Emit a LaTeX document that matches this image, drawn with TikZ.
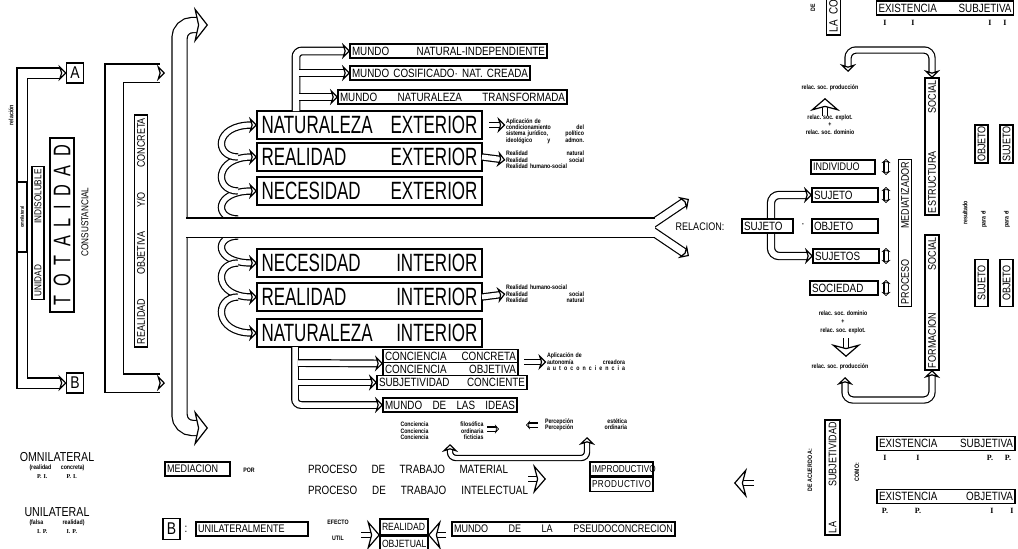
\documentclass[tikz,border=0pt]{standalone}
\usepackage{fontspec}
\setmainfont{Liberation Sans}
\newfontfamily\lero[FakeStretch=0.68]{Liberation Sans}
\newfontfamily\lerm[FakeStretch=0.82]{Liberation Sans}
\newfontfamily\lserif{Liberation Serif}
\newcommand\lsz[1]{\fontsize{#1}{#1}\selectfont}
\usetikzlibrary{arrows.meta, positioning}

\tikzset{
  hd/.tip={Stealth[length=8pt, width=16pt, inset=2.5pt, fill=white]},
  hdb/.tip={Stealth[length=14pt, width=36pt, inset=4pt, fill=white]},
  hdc/.tip={Stealth[length=13pt, width=30pt, inset=4pt, fill=white]},
  hds/.tip={Stealth[length=4pt, width=9pt, inset=1pt, fill=white]},
}

\begin{document}
\begin{tikzpicture}[x=1pt, y=-1pt, line width=1.2pt,
    box/.style={draw, fill=white, inner sep=0pt, outer sep=0pt},
    bigbox/.style={box, minimum width=225pt, minimum height=28pt, text width=216pt, font=\lero\lsz{25}},
    midbox/.style={box, minimum height=14pt, text width=#1, inner xsep=2pt, font=\lerm\lsz{12}},
    vbox/.style={box, rotate=90, font=\lerm\lsz{11}},
    hollow/.style={draw, double=white, double distance=#1},
    hollow/.default=6pt,
    tinytxt/.style={inner sep=0pt, align=left, font=\lerm\bfseries\lsz{6.4}},
    numtxt/.style={inner sep=0pt, font=\lserif\bfseries\lsz{8}},
    captxt/.style={inner sep=0pt, font=\lerm\lsz{12}},
]
\useasboundingbox (0,0) rectangle (1018,549);

% ---- left block
\node[box, minimum width=17pt, minimum height=20pt, font=\lerm\lsz{17}] (A) at (75,73) {A};
\node[box, minimum width=17pt, minimum height=20pt, font=\lerm\lsz{17}] (B) at (75,383) {B};
\draw[hollow=9pt, {hd}-{hd}] (A.west) -- (22,73) -- (22,383) -- (B.west);
\node[vbox, minimum width=70pt, minimum height=10pt, font=\lerm\bfseries\lsz{5}] (omni) at (22,217) {omnilateral};
\node[tinytxt, rotate=90] (rel) at (11,115) {relación};
\node[vbox, minimum width=133pt, minimum height=12pt, text width=127pt, font=\lerm\lsz{10}] (unid) at (38,233) {UNIDAD\hfill INDISOLUBLE};
\node[vbox, minimum width=174pt, minimum height=24pt, text width=160pt, font=\lero\lsz{24}] (tot) at (62,225) {T\hfill O\hfill T\hfill A\hfill L\hfill I\hfill D\hfill A\hfill D};
\node[captxt, rotate=90, font=\lerm\lsz{10}] (cons) at (85,222) {CONSUSTANCIAL};

% ---- second bracket
\coordinate (ro1) at (165,73);
\coordinate (ro2) at (165,383);
\draw[hollow=17pt, {hd}-{hd}] (ro1) -- (114,73) -- (114,383) -- (ro2);
\node[vbox, minimum width=232pt, minimum height=13pt, text width=226pt] (roc) at (141,231) {REALIDAD\hfill OBJETIVA\hfill Y/O\hfill CONCRETA};

% ---- big boxes
\node[bigbox] (natE) at (369.5,125) {NATURALEZA\hfill EXTERIOR};
\node[bigbox] (reaE) at (369.5,157) {REALIDAD\hfill EXTERIOR};
\node[bigbox] (necE) at (369.5,191) {NECESIDAD\hfill EXTERIOR};
\node[bigbox] (necI) at (369.5,263) {NECESIDAD\hfill INTERIOR};
\node[bigbox] (reaI) at (369.5,297) {REALIDAD\hfill INTERIOR};
\node[bigbox] (natI) at (369.5,333) {NATURALEZA\hfill INTERIOR};

% C loops into the big boxes
\draw[hollow=5pt, -{hd}] (238,219) .. controls (214,219) and (214,191) .. (necE.west);
\draw[hollow=5pt, -{hd}] (238,191) .. controls (214,191) and (214,157) .. (reaE.west);
\draw[hollow=5pt, -{hd}] (238,157) .. controls (214,157) and (214,125) .. (natE.west);
\draw[hollow=5pt, -{hd}] (238,236) .. controls (214,236) and (214,263) .. (necI.west);
\draw[hollow=5pt, -{hd}] (238,263) .. controls (214,263) and (214,297) .. (reaI.west);
\draw[hollow=5pt, -{hd}] (238,297) .. controls (214,297) and (214,333) .. (natI.west);

% ---- trunk
\coordinate (ttop) at (208,25);
\coordinate (tbot) at (208,428);
\coordinate (fork) at (655,227.5);
\draw[hollow=14pt, rounded corners=13pt, {hdb}-{hdb}] (ttop) -| (179.5,228) |- (tbot);
\draw[hollow=7pt, -{hd}] (652,224) -- (689,199);
\draw[hollow=7pt, -{hd}] (652,231) -- (689,256);
\draw[hollow=18pt] (186.2,227.5) -- (fork);
\node[captxt, font=\lerm\lsz{11}] (rela) at (700,227) {RELACION:};

% ---- mundo boxes
\node[midbox=193pt] (mnat) at (448.5,51) {MUNDO\hfill NATURAL-INDEPENDIENTE};
\node[midbox=176pt] (mcos) at (440,73) {MUNDO\hfill COSIFICADO·\hfill NAT.\hfill CREADA};
\node[midbox=225pt] (mtra) at (452.5,97) {MUNDO\hfill NATURALEZA\hfill TRANSFORMADA};
\coordinate (mb) at (296,111);
\draw[hollow=6.5pt, rounded corners=6pt, -{hd}] (mb) |- (mnat.west);
\draw[hollow=6.5pt, -{hd}] (299.2,73) -- (mcos.west);
\draw[hollow=6.5pt, -{hd}] (299.2,97) -- (mtra.west);

% ---- conciencia boxes
\node[midbox=131pt] (cconc) at (450.5,356.5) {CONCIENCIA\hfill CONCRETA};
\node[midbox=131pt] (cobj) at (450.5,369.5) {CONCIENCIA\hfill OBJETIVA};
\node[midbox=146pt] (subj) at (452,382.5) {SUBJETIVIDAD\hfill CONCIENTE};
\node[midbox=130pt] (ideas) at (450,405) {MUNDO\hfill DE\hfill LAS\hfill IDEAS};
\coordinate (ib) at (295,347);
\draw[hollow=5.5pt, rounded corners=6pt, -{hd}] (ib) |- (ideas.west);
\draw[hollow=5.5pt, -{hd}] (297.8,363) -- (cconc.south west);
\draw[hollow=5.5pt, -{hd}] (297.8,382.5) -- (subj.west);

% ---- side notes
\node[tinytxt, text width=78pt] (ntE) at (545,131) {Aplicación de\\ condicionamiento\hfill del\\ sistema jurídico,\hfill político\\ ideológico\hfill y\hfill admon.};
\coordinate (ntEa) at (489,125);
\draw[hollow=4pt, -{hd}] (ntEa) -- (ntE.west |- ntEa);
\node[tinytxt, text width=78pt] (rtE) at (545,160) {Realidad\hfill natural\\ Realidad\hfill social\\ Realidad humano-social};
\draw[hollow=5pt, -{hd}] (reaE.east) -- (rtE.west);
\node[tinytxt, text width=78pt] (rtI) at (545,294) {Realidad humano-social\\ Realidad\hfill social\\ Realidad\hfill natural};
\draw[hollow=5pt, -{hd}] (reaI.east) -- (rtI.west);
\node[tinytxt, text width=78pt] (atx) at (586,362) {Aplicación de\\ autonomía\hfill creadora\\ a\hfill u\hfill t\hfill o\hfill c\hfill o\hfill n\hfill c\hfill i\hfill e\hfill n\hfill c\hfill i\hfill a};
\coordinate (atxa) at (524,362);
\draw[hollow=4pt, -{hd}] (atxa) -- (atx.west);

\node[tinytxt, text width=83pt] (cfil) at (442,431) {Conciencia\hfill filosófica\\ Conciencia\hfill ordinaria\\ Conciencia\hfill ficticias};
\node[tinytxt, text width=82pt] (perc) at (586,425) {Percepción\hfill estética\\ Percepción\hfill ordinaria};
\coordinate (cfa) at (487,429);
\coordinate (pca) at (538,425);
\draw[hollow=3pt, -{hds}] (cfa) -- ++(12,0);
\draw[hollow=3pt, -{hds}] (pca) -- ++(-12,0);
\coordinate (cq) at (450,444);
\coordinate (pq) at (587,437);
\draw[hollow=4pt, rounded corners=6pt, {hd}-{hd}] (cq) -- (450,458) -| (pq);

% ---- proceso de trabajo
\node[captxt, text width=200pt] (ptm) at (408,469) {PROCESO\hfill DE\hfill TRABAJO\hfill MATERIAL};
\node[captxt, text width=220pt] (pti) at (418,490) {PROCESO\hfill DE\hfill TRABAJO\hfill INTELECTUAL};
\coordinate (pta) at (528,479);
\draw[hollow=4pt, -{hdc}] (pta) -- ++(18,0);
\node[midbox=59pt, font=\lerm\lsz{10}] (impr) at (621.5,469) {IMPRODUCTIVO};
\node[midbox=59pt, font=\lerm\lsz{10}] (prod) at (621.5,484.5) {P\hfill R\hfill O\hfill D\hfill U\hfill C\hfill T\hfill I\hfill V\hfill O};
\coordinate (lar) at (754,483);
\draw[hollow=4pt, -{hdc}] (lar) -- ++(-20,0);

% ---- bottom row
\node[midbox=61pt, font=\lerm\lsz{11}] (medi) at (197.5,469) {MEDIACION};
\node[tinytxt] (por) at (249,470) {POR};
\node[box, minimum width=17pt, minimum height=21pt, font=\lerm\lsz{17}] (B2) at (171.5,529) {B};
\node[captxt] (colon) at (186,529) {:};
\node[midbox=108pt, font=\lerm\lsz{11}] (unim) at (252,529) {UNILATERALMENTE};
\node[tinytxt] (efe) at (338,522) {EFECTO};
\node[tinytxt] (util) at (338,538) {UTIL};
\node[midbox=44pt, minimum height=16pt, font=\lerm\lsz{10.5}] (rea) at (404,527) {REALIDAD};
\node[midbox=44pt, minimum height=16pt, font=\lerm\lsz{10.5}] (obj) at (404,544) {OBJETUAL};
\coordinate (ra) at (361,535);
\coordinate (rb) at (446,535);
\draw[hollow=4pt, -{hdc}] (ra) -- (rea.west |- ra);
\draw[hollow=4pt, -{hdc}] (rb) -- (rea.east |- rb);
\node[midbox=219pt, font=\lerm\lsz{11}] (pseu) at (563.5,529) {MUNDO\hfill DE\hfill LA\hfill PSEUDOCONCRECION};

\node[captxt, font=\lerm\lsz{13}] (omn) at (57,457) {OMNILATERAL};
\node[tinytxt, text width=55pt] (omr) at (57,468) {(realidad\hfill concreta)};
\node[numtxt, text width=40pt, font=\lserif\bfseries\lsz{6}] (omp) at (57,477) {P.\ I.\hfill P.\ I.};
\node[captxt, font=\lerm\lsz{13}] (unl) at (57,512) {UNILATERAL};
\node[tinytxt, text width=55pt] (unr) at (57,523) {(falsa\hfill realidad)};
\node[numtxt, text width=40pt, font=\lserif\bfseries\lsz{6}] (unp) at (57,532) {I.\ P.\hfill I.\ P.};

% ---- right block
\node[midbox=47pt] (sj) at (767.5,226) {SUJETO};
\node[captxt] (dot) at (803,226) {·};
\node[midbox=62pt] (ob) at (845,226) {OBJETO};
\node[midbox=60pt, font=\lerm\lsz{11}] (ind) at (843,167) {INDIVIDUO};
\node[midbox=62pt] (sjt) at (845,195) {SUJETO};
\node[midbox=62pt] (sjs) at (846,256) {SUJETOS};
\node[midbox=64pt] (soc) at (844,288) {SOCIEDAD};
\draw[hollow=6pt, rounded corners=8pt, {hd}-{hd}] (sjt.west) -| (771,226) |- (sjs.west);
\node[midbox=47pt] (sj) at (767.5,226) {SUJETO};
\foreach \yy in {167,195,256,288}
  \draw[hollow=3pt, {hds}-{hds}] (886,\yy-8) -- (886,\yy+8);

\node[vbox, minimum width=147pt, minimum height=13pt, text width=143pt] (pmed) at (905,233) {PROCESO\hfill MEDIATIZADOR};
\node[vbox, minimum width=137pt, minimum height=14pt, text width=133pt] (estr) at (932,146.5) {ESTRUCTURA\hfill SOCIAL};
\node[vbox, minimum width=135pt, minimum height=14pt, text width=131pt] (form) at (932,302.5) {FORMACION\hfill SOCIAL};

\node[tinytxt] (rp1) at (830,88) {relac. soc. producción};
\coordinate (cu) at (825,116);
\draw[hollow=4pt, -{hdc}] (cu) -- ++(0,-18);
\node[tinytxt] (re1) at (830,118) {relac. soc. explot.};
\node[tinytxt] (pl1) at (830,125) {+};
\node[tinytxt] (rd1) at (830,132) {relac. soc. dominio};
\coordinate (lt) at (848,72);
\draw[hollow=5pt, rounded corners=8pt, {hd}-{hd}] (lt) -- ++(0,-22) -| (estr.east);

\node[tinytxt] (rd2) at (843,313) {relac. soc. dominio};
\node[tinytxt] (pl2) at (843,322) {+};
\node[tinytxt] (re2) at (843,331) {relac. soc. explot.};
\coordinate (cd) at (846,338);
\draw[hollow=4pt, -{hdc}] (cd) -- ++(0,19);
\node[tinytxt] (rp2) at (840,367) {relac. soc. producción};
\coordinate (lb) at (845,377);
\draw[hollow=5pt, rounded corners=8pt, {hd}-{hd}] (lb) -- ++(0,23) -| (form.west);

\node[vbox, minimum width=38pt, minimum height=13pt] (objT) at (981.5,144) {OBJETO};
\node[vbox, minimum width=38pt, minimum height=13pt] (sujT) at (1006.5,144) {SUJETO};
\node[vbox, minimum width=47pt, minimum height=13pt] (sujB) at (981.5,283) {SUJETO};
\node[vbox, minimum width=47pt, minimum height=13pt] (objB) at (1006.5,283) {OBJETO};
\node[tinytxt, rotate=90] (res) at (965,213) {resultado};
\node[tinytxt, rotate=90] (pe1) at (984,219) {para el};
\node[tinytxt, rotate=90] (pe2) at (1007,219) {para el};

\node[vbox, anchor=west, minimum height=14pt, font=\lerm\lsz{12}] (lacon) at (833.5,35) {\ LA\ \ CONCIENCIA\ };
\node[tinytxt, rotate=90] (detop) at (813,8) {DE};
\node[midbox=133pt] (exs1) at (945,8) {EXISTENCIA\hfill SUBJETIVA};
\node[numtxt] at (885,23) {I};
\node[numtxt] at (913,23) {I};
\node[numtxt] at (990,23) {I};
\node[numtxt] at (1005,23) {I};

\node[vbox, minimum width=115pt, minimum height=15pt, text width=111pt] (lasub) at (832.5,477.5) {LA\hfill SUBJETIVIDAD};
\node[tinytxt, rotate=90] (deac) at (810,470) {DE ACUERDO A:};
\node[tinytxt, rotate=90] (como) at (857,472) {COMO:};
\node[midbox=134pt] (exs) at (946,443.5) {EXISTENCIA\hfill SUBJETIVA};
\node[midbox=134pt] (exo) at (946,496.5) {EXISTENCIA\hfill OBJETIVA};
\node[numtxt] at (885,458) {I};
\node[numtxt] at (918,458) {I};
\node[numtxt] at (990,458) {P.};
\node[numtxt] at (1008,458) {P.};
\node[numtxt] at (885,511) {P.};
\node[numtxt] at (918,511) {P.};
\node[numtxt] at (992,511) {I};
\node[numtxt] at (1012,511) {I};
\end{tikzpicture}
\end{document}
